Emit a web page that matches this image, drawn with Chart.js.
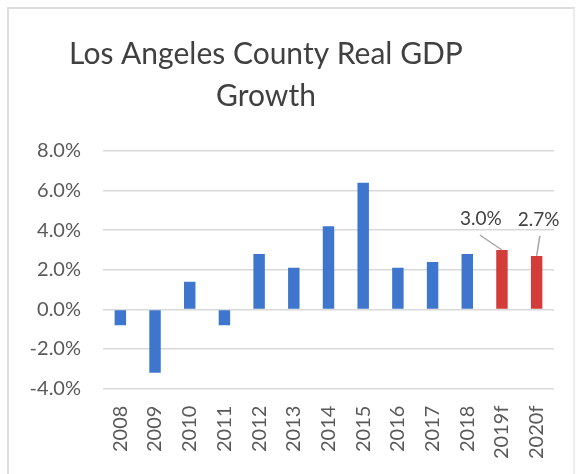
<!DOCTYPE html>
<html>
<head>
<meta charset="utf-8">
<title>Los Angeles County Real GDP Growth</title>
<script src="https://cdn.jsdelivr.net/npm/chart.js@4"></script>
<style>
  html, body { margin: 0; padding: 0; background: #fff; }
  #wrap { position: relative; width: 577px; height: 474px; overflow: hidden; }
  #frame {
    position: absolute; left: 7px; top: 7px; width: 564px; height: 490px;
    border: 2px solid #dcdcdc; border-right-color: #ececec; pointer-events: none;
  }
</style>
</head>
<body>
<div id="wrap">
  <canvas id="gdpChart" width="577" height="474"></canvas>
  <div id="frame"></div>
</div>
<script>
// Real GDP growth, LA County (%), last two years are forecasts
const years = ['2008', '2009', '2010', '2011', '2012', '2013', '2014', '2015',
               '2016', '2017', '2018', '2019f', '2020f'];
const growth = [-0.8, -3.2, 1.4, -0.8, 2.8, 2.1, 4.2, 6.4, 2.1, 2.4, 2.8, 3.0, 2.7];
const forecast = [false, false, false, false, false, false, false, false,
                  false, false, false, true, true];
const yTicks = [-4, -2, 0, 2, 4, 6, 8];
const titleLines = ['Los Angeles County Real GDP', 'Growth'];

const BLUE = '#3d76cc';
const RED = '#d23d3a';
const TEXT = '#595959';

// two-line title, drawn a little left of centre like the Excel original
const chartTitle = {
    id: 'chartTitle',
    afterDraw(chart) {
        const ctx = chart.ctx;
        ctx.save();
        ctx.font = '30px Lato';
        ctx.fillStyle = '#404040';
        ctx.textAlign = 'center';
        ctx.textBaseline = 'alphabetic';
        ctx.fillText(titleLines[0], 266, 64);
        ctx.fillText(titleLines[1], 266, 106);
        ctx.restore();
    }
};

// value labels + leader lines for the forecast bars
const labelOffsets = { 11: [-21, -31], 12: [2, -36] };
const forecastLabels = {
    id: 'forecastLabels',
    afterDatasetsDraw(chart) {
        const ctx = chart.ctx;
        const bars = chart.getDatasetMeta(0).data;
        ctx.save();
        ctx.font = '19px Lato';
        ctx.fillStyle = '#404040';
        ctx.textAlign = 'center';
        ctx.textBaseline = 'middle';
        ctx.strokeStyle = '#a6a6a6';
        ctx.lineWidth = 1.5;
        Object.keys(labelOffsets).forEach(k => {
            const i = Number(k);
            const bar = bars[i];
            const [dx, dy] = labelOffsets[k];
            const lx = bar.x + dx, ly = bar.y + dy;
            ctx.fillText(growth[i].toFixed(1) + '%', lx, ly);
            ctx.beginPath();
            ctx.moveTo(lx + dx * 0.1 + 1, ly + 16);
            ctx.lineTo(bar.x, bar.y);
            ctx.stroke();
        });
        ctx.restore();
    }
};

const ctx = document.getElementById('gdpChart').getContext('2d');
new Chart(ctx, {
    type: 'bar',
    data: {
        labels: years,
        datasets: [{
            data: growth,
            backgroundColor: forecast.map(f => f ? RED : BLUE),
            barPercentage: 0.33,
            categoryPercentage: 1.0
        }]
    },
    options: {
        responsive: false,
        animation: false,
        layout: { padding: { left: 20, right: 23, top: 151, bottom: 6 } },
        plugins: {
            legend: { display: false },
            tooltip: { enabled: false },
            title: { display: false }
        },
        scales: {
            x: {
                grid: { display: false },
                border: { display: false },
                ticks: {
                    color: TEXT,
                    font: { family: 'Lato', size: 20 },
                    minRotation: 90,
                    maxRotation: 90,
                    padding: 9
                }
            },
            y: {
                min: -4,
                max: 8,
                afterBuildTicks(scale) {
                    scale.ticks = yTicks.map(v => ({ value: v }));
                },
                afterFit(scale) { scale.width = 83; },
                grid: {
                    color: '#d9d9d9',
                    lineWidth: 1.5,
                    drawTicks: false
                },
                border: { display: false },
                ticks: {
                    color: TEXT,
                    font: { family: 'Lato', size: 20 },
                    padding: 22,
                    callback: v => v.toFixed(1) + '%'
                }
            }
        }
    },
    plugins: [forecastLabels, chartTitle]
});
</script>
</body>
</html>
